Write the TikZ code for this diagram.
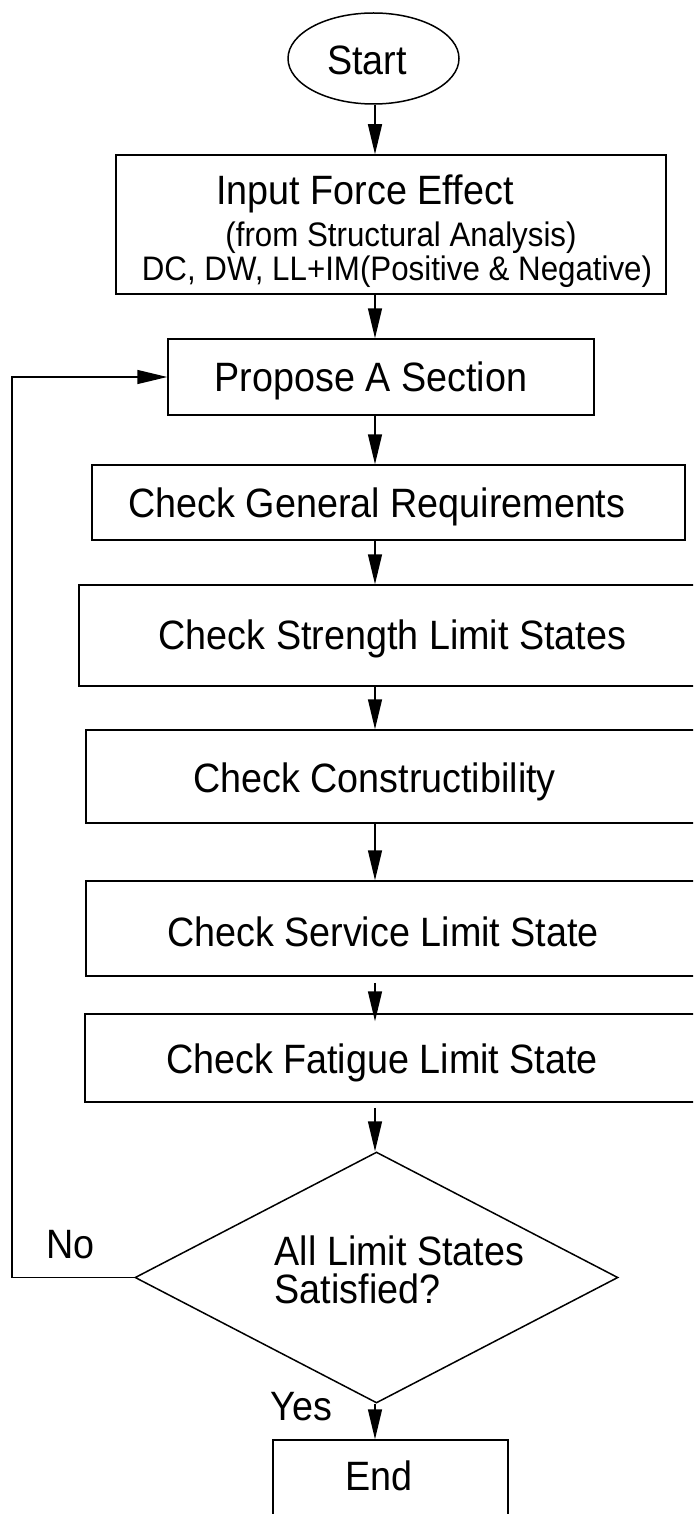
\documentclass[tikz,border=0pt]{standalone}
\usepackage{fontspec}
\setmainfont{Liberation Sans}[FakeStretch=0.92]
\usetikzlibrary{shapes.geometric,arrows.meta}

\begin{document}
\begin{tikzpicture}[x=1pt,y=1pt,line width=1.5pt,
  box/.style={draw,rectangle,inner sep=0pt},
  lbl/.style={inner sep=0pt,anchor=base,font=\fontsize{41}{41}\selectfont},
  sml/.style={inner sep=0pt,anchor=base,font=\fontsize{34}{34}\selectfont},
  arr/.style={-{Triangle[length=30pt,width=14pt]}}]
\useasboundingbox (0,0) rectangle (693,-1514);
\clip (0,0) rectangle (693,-1514);
\coordinate (spine) at (375,0);
\coordinate (back) at (12,0);
\node [draw,ellipse,minimum width=171,minimum height=91] (start) at (373.5,-58.5) {};
\node [lbl] (start-t) at (367,-75) {Start};
\node [box,minimum width=550,minimum height=139] (input) at (391,-224.5) {};
\node [lbl] (input-a) at (365,-205) {Input Force Effect};
\node [sml] (input-b) at (401,-247) {(from Structural Analysis)};
\node [sml] (input-c) at (397,-280) {DC, DW, LL+IM(Positive \& Negative)};
\node [box,minimum width=426,minimum height=76] (propose) at (381,-377) {};
\node [lbl] (propose-t) at (371,-391) {Propose A Section};
\node [box,minimum width=593,minimum height=75] (general) at (388.5,-502.5) {};
\node [lbl] (general-t) at (377,-517) {Check General Requirements};
\node [box,minimum width=621,minimum height=101] (strength) at (389.5,-635.5) {};
\node [lbl] (strength-t) at (392.5,-649) {Check Strength Limit States};
\node [box,minimum width=614,minimum height=93] (constr) at (393,-776.5) {};
\node [lbl] (constr-t) at (374.5,-792) {Check Constructibility};
\node [box,minimum width=614,minimum height=95] (service) at (393,-928.5) {};
\node [lbl] (service-t) at (383,-946) {Check Service Limit State};
\node [box,minimum width=615,minimum height=88] (fatigue) at (392.5,-1058) {};
\node [lbl] (fatigue-t) at (382,-1073) {Check Fatigue Limit State};
\node [draw,diamond,minimum width=483,minimum height=251,inner sep=0pt] (check) at (376.5,-1277.5) {};
\node [lbl,anchor=base west] (check-a) at (274,-1265) {All Limit States};
\node [lbl,anchor=base west] (check-b) at (274,-1303) {Satisfied?};
\node [lbl,anchor=base west] (no) at (46,-1258) {No};
\node [lbl,anchor=base west] (yes) at (270,-1420) {Yes};
\node [box,minimum width=235,minimum height=90] (end) at (390.5,-1485) {};
\node [lbl] (end-t) at (379,-1490) {End};
\draw [arr] (spine |- start.south) -- (spine |- input.north);
\draw [arr] (spine |- input.south) -- (spine |- propose.north);
\draw [arr] (spine |- propose.south) -- (spine |- general.north);
\draw [arr] (spine |- general.south) -- (spine |- strength.north);
\draw [arr] (spine |- strength.south) -- (spine |- constr.north);
\draw [arr] (spine |- constr.south) -- (spine |- service.north);
\draw [arr] ([yshift=-6pt]spine |- service.south) -- ([yshift=-8pt]spine |- fatigue.north);
\draw [arr] ([yshift=-5pt]spine |- fatigue.south) -- (spine |- check.north);
\draw [arr] (spine |- check.south) -- (spine |- end.north);
\draw [arr] (check.west) -- (back |- check.west) -- (back |- propose.west) -- (propose.west);
\end{tikzpicture}
\end{document}
